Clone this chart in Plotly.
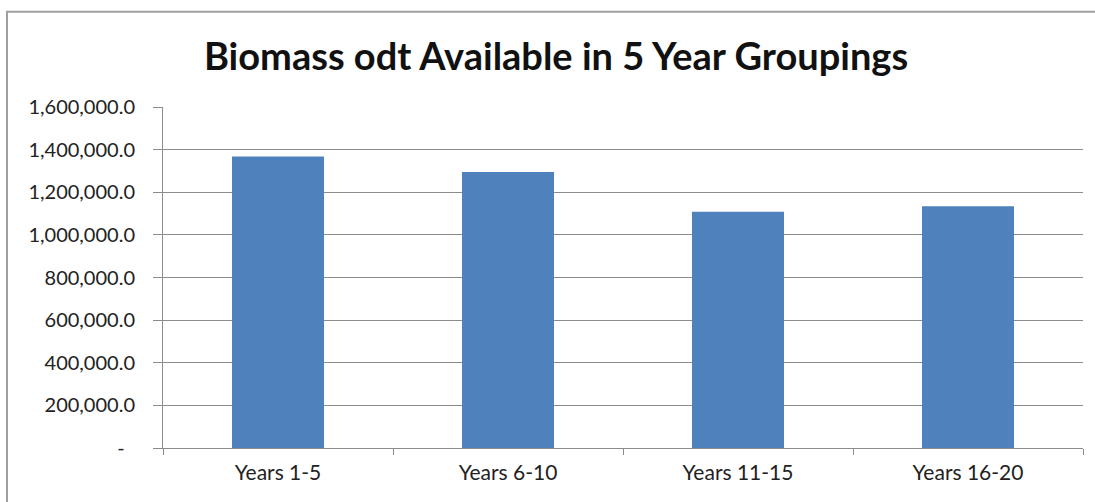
import plotly.graph_objects as go

categories = ["Years 1-5", "Years 6-10", "Years 11-15", "Years 16-20"]
biomass_odt = [1368000, 1295000, 1109000, 1134000]
tick_values = [0, 200000, 400000, 600000, 800000, 1000000, 1200000, 1400000, 1600000]
tick_labels = ["-\u00a0\u00a0", "200,000.0", "400,000.0", "600,000.0", "800,000.0",
               "1,000,000.0", "1,200,000.0", "1,400,000.0", "1,600,000.0"]

W, H = 1095, 502
L, R = 163, 1083
T, B = 106.5, 448

fig = go.Figure(go.Bar(x=categories, y=biomass_odt, marker=dict(color="#4F81BD", line=dict(width=0)),
                       width=0.4))

def px_to_paper_x(px):
    return (px - L) / (R - L)

def px_to_paper_y(py):
    return (B - py) / (B - T)

fig.update_layout(
    width=W, height=H,
    margin=dict(l=L, r=W - R, t=T, b=H - B, pad=0),
    paper_bgcolor="white", plot_bgcolor="white",
    showlegend=False,
    title=dict(text="<b>Biomass odt Available in 5 Year Groupings</b>",
               font=dict(family="Lato", size=38, color="#111111"),
               x=556 / W, xanchor="center", xref="container", y=1 - 57 / H, yanchor="middle"),
    xaxis=dict(showgrid=False, showline=True, linecolor="#8C8C8C", linewidth=1,
               ticks="outside", tickson="boundaries", ticklen=6, tickcolor="#8C8C8C",
               tickfont=dict(family="Lato", size=21, color="#222222"),
               ticklabelstandoff=6,
               range=[-0.5, 3.5]),
    yaxis=dict(range=[0, 1600000], tickvals=tick_values, ticktext=tick_labels,
               showgrid=True, gridcolor="#8C8C8C", gridwidth=1,
               showline=True, linecolor="#8C8C8C", linewidth=1,
               ticks="outside", ticklen=9, tickcolor="#8C8C8C",
               tickfont=dict(family="Lato", size=20, color="#222222"),
               ticklabelstandoff=14,
               zeroline=False),
)

fig.add_shape(type="rect", xref="paper", yref="paper",
              x0=px_to_paper_x(7), x1=px_to_paper_x(1100),
              y0=px_to_paper_y(510), y1=px_to_paper_y(11),
              line=dict(color="#A0A0A0", width=2), fillcolor="rgba(0,0,0,0)", layer="below")

fig.write_html("out.html")
